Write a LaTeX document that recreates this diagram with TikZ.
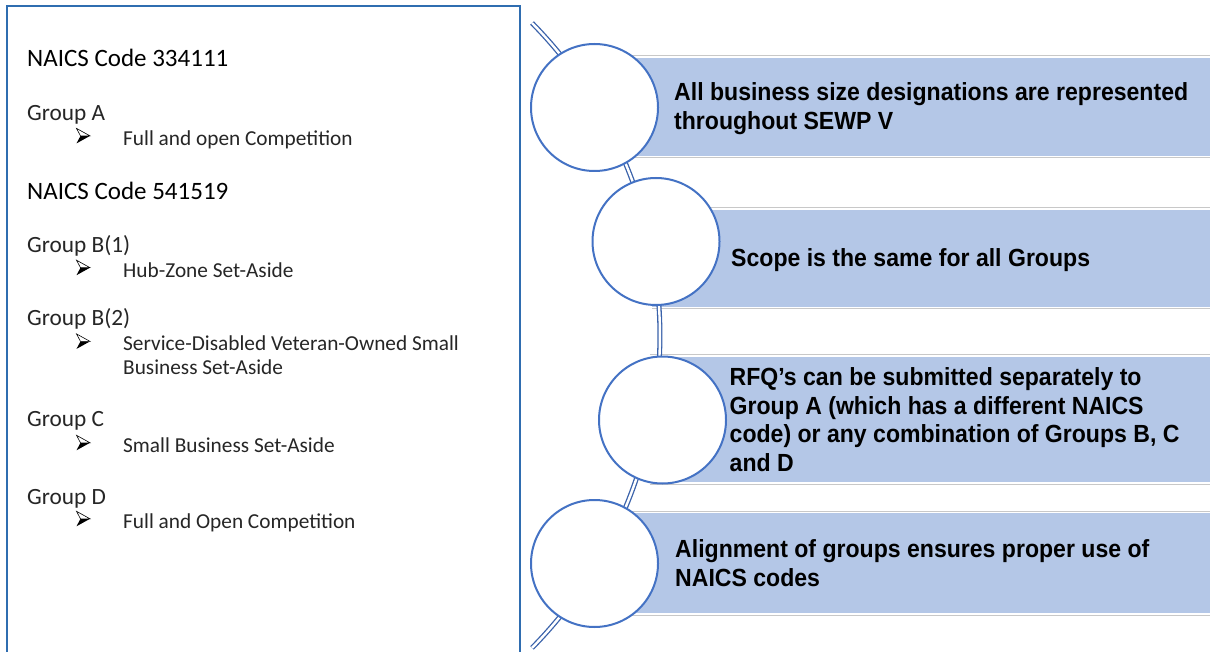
\documentclass[tikz,border=0pt]{standalone}
\usepackage{fontspec}
\setmainfont{Carlito}
\newfontfamily\rfont[FakeStretch=0.93]{Liberation Sans}
\definecolor{boxblue}{RGB}{47,109,176}
\definecolor{circblue}{RGB}{68,114,196}
\definecolor{spineblue}{RGB}{58,98,170}
\definecolor{fillblue}{RGB}{180,199,231}
\definecolor{greyline}{RGB}{200,200,200}
\begin{document}
\begin{tikzpicture}[x=1pt,y=-1pt,
  hdr/.style={anchor=base west, inner sep=0pt, font=\fontsize{25}{30}\selectfont},
  grp/.style={anchor=base west, inner sep=0pt, text=black!85, font=\fontsize{23.3}{28}\selectfont},
  itm/.style={anchor=base west, inner sep=0pt, text=black!85, font=\fontsize{21.3}{26}\selectfont},
  rt/.style={anchor=base west, inner sep=0pt, font=\rfont\bfseries\fontsize{24.8}{28}\selectfont},
  circ/.style={circle, draw=circblue, line width=2pt, fill=white, minimum size=127pt, inner sep=0pt},
  spine/.style={draw=spineblue, line width=1.3pt, double=white, double distance=2.4pt},
  greybar/.style={fill=greyline},
  gapbar/.style={fill=white},
  bluebar/.style={fill=fillblue},
  arrowbul/.pic={
    \fill[black] (4,7.5) -- (13.5,7.5) -- (0,15) -- cycle;
    \draw[black, line width=0.6pt, line join=miter, fill=white] (0,0) -- (13.5,7.5) -- (4,7.5) -- cycle;
  }
]
\useasboundingbox (0,0) rectangle (1210,652);
\fill[white] (0,0) rectangle (1210,652);

% left panel
\draw[boxblue, line width=2pt] (6.5,670) -- (6.5,6) -- (520,6) -- (520,670);

\node[hdr] (n1) at (27,66.6) {NAICS Code 334111};
\node[grp] (ga) at (27,121) {Group A};
\pic at (76.5,128.4) {arrowbul};
\node[itm] (ia) at (123,145.4) {Full and open Competition};
\node[hdr] (n2) at (27,199.5) {NAICS Code 541519};
\node[grp] (gb1) at (27,252.9) {Group B(1)};
\pic at (76.5,260.2) {arrowbul};
\node[itm] (ib1) at (123,277.2) {Hub-Zone Set-Aside};
\node[grp] (gb2) at (27,325.5) {Group B(2)};
\pic at (76.5,333.9) {arrowbul};
\node[itm] (ib2a) at (123,350.9) {Service-Disabled Veteran-Owned Small};
\node[itm] (ib2b) at (123,374.5) {Business Set-Aside};
\node[grp] (gc) at (27,426.9) {Group C};
\pic at (76.5,435.3) {arrowbul};
\node[itm] (ic) at (123,452.3) {Small Business Set-Aside};
\node[grp] (gd) at (27,504.7) {Group D};
\pic at (76.5,511.3) {arrowbul};
\node[itm] (id) at (123,528.3) {Full and Open Competition};

% right bars
\foreach \L/\gt/\ft/\fb/\gb in {594/55.5/58/156/158.5, 652/207/210/307/309.5, 650/354/357/482/484.5, 594/510.5/513/613/615.5}{
  \fill[greybar] (\L,\gt) rectangle (1212,\gb);
  \fill[gapbar] (\L,\gt+1) rectangle (1212,\gb-1);
  \fill[bluebar] (\L,\ft) rectangle (1212,\fb);
}

% spine
\coordinate (sptop) at (532,23);
\draw[spine] (sptop) arc[start angle=-44.54, end angle=44.54, radius=445.5];

% circles
\node[circ] (c1) at (594.5,107.5) {};
\node[circ] (c2) at (656,241.5) {};
\node[circ] (c3) at (662.5,420) {};
\node[circ] (c4) at (594.5,563.5) {};

% right texts
\node[rt] (t1a) at (674,101) {All business size designations are represented};
\node[rt] (t1b) at (674,129.5) {throughout SEWP V};
\node[rt] (t2) at (731,267) {Scope is the same for all Groups};
\node[rt] (t3a) at (729.5,385.5) {RFQ’s can be submitted separately to};
\node[rt] (t3b) at (729.5,414) {Group A (which has a different NAICS};
\node[rt] (t3c) at (729.5,442.5) {code) or any combination of Groups B, C};
\node[rt] (t3d) at (729.5,471) {and D};
\node[rt] (t4a) at (675,557) {Alignment of groups ensures proper use of};
\node[rt] (t4b) at (675,586) {NAICS codes};
\end{tikzpicture}
\end{document}
